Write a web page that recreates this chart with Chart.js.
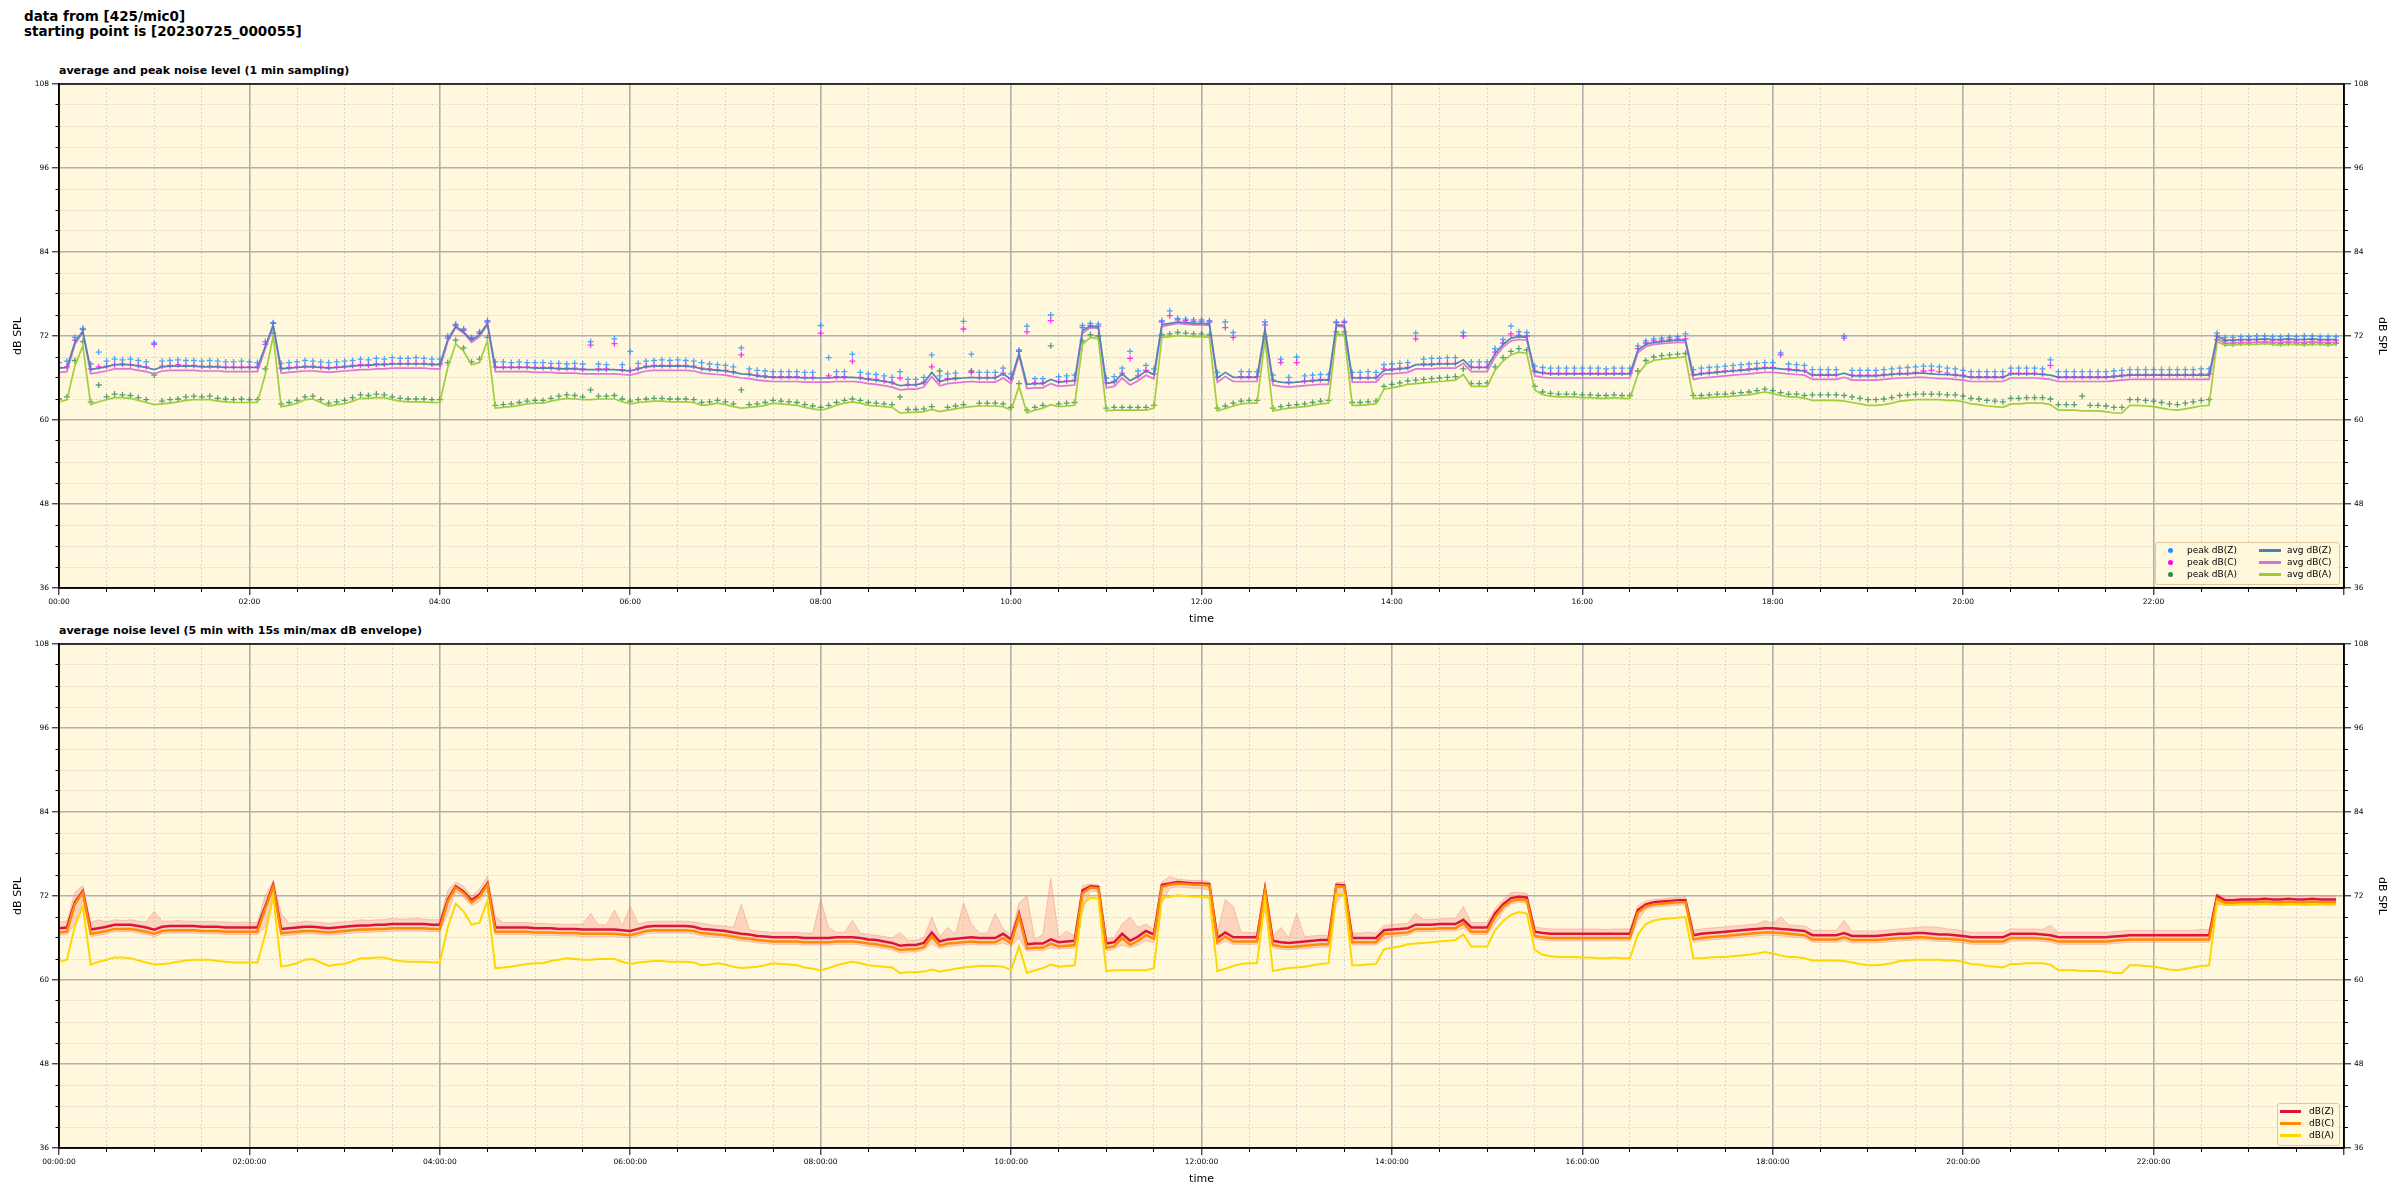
<!DOCTYPE html>
<html>
<head>
<meta charset="utf-8">
<script src="https://cdn.jsdelivr.net/npm/chart.js@4.4.0/dist/chart.umd.min.js"></script>
<style>
  html, body { margin: 0; padding: 0; background: #fff; }
  body { width: 2400px; height: 1200px; position: relative; overflow: hidden; font-family: 'DejaVu Sans', sans-serif; color: #000; }
  .head { position: absolute; left: 24px; top: 9px; font-size: 13.5px; font-weight: bold; line-height: 15px; }
  .sub { position: absolute; left: 59px; font-size: 11px; font-weight: bold; }
  canvas { position: absolute; left: 0; }
  .legend { position: absolute; background: rgba(255, 248, 220, 0.85); border: 1px solid #dcc9a0; border-radius: 3px; font-size: 9px; }
  .legend span { position: absolute; line-height: 12px; white-space: nowrap; }
  .legend i { position: absolute; display: block; }
</style>
</head>
<body>
<div class="head">data from [425/mic0]<br>starting point is [20230725_000055]</div>
<div class="sub" style="top:64px">average and peak noise level (1 min sampling)</div>
<div class="sub" style="top:624px">average noise level (5 min with 15s min/max dB envelope)</div>
<canvas id="top" width="2400" height="580" style="top:60px"></canvas>
<canvas id="bottom" width="2400" height="580" style="top:620px"></canvas>

<div class="legend" style="left:2155px;top:542px;width:183px;height:41px">
  <i style="left:12px;top:5px;width:5px;height:5px;border-radius:50%;background:#1e90ff"></i><span style="left:31px;top:1px">peak dB(Z)</span>
  <i style="left:12px;top:17px;width:5px;height:5px;border-radius:50%;background:#ff00ff"></i><span style="left:31px;top:13px">peak dB(C)</span>
  <i style="left:12px;top:29px;width:5px;height:5px;border-radius:50%;background:#2e8b57"></i><span style="left:31px;top:25px">peak dB(A)</span>
  <i style="left:103px;top:6px;width:22px;height:3px;background:#4682b4"></i><span style="left:131px;top:1px">avg dB(Z)</span>
  <i style="left:103px;top:18px;width:22px;height:3px;background:#da70d6"></i><span style="left:131px;top:13px">avg dB(C)</span>
  <i style="left:103px;top:30px;width:22px;height:3px;background:#9acd32"></i><span style="left:131px;top:25px">avg dB(A)</span>
</div>
<div class="legend" style="left:2277px;top:1103px;width:61px;height:41px">
  <i style="left:2px;top:6px;width:21px;height:3px;background:#dc143c"></i><span style="left:31px;top:1px">dB(Z)</span>
  <i style="left:2px;top:18px;width:21px;height:3px;background:#ff8c00"></i><span style="left:31px;top:13px">dB(C)</span>
  <i style="left:2px;top:30px;width:21px;height:3px;background:#ffd700"></i><span style="left:31px;top:25px">dB(A)</span>
</div>

<script>
// 5-minute samples, one row per hour (00h .. 23h), values in dB SPL
const avgZ = [
  67.4,67.5,71.1,72.7,67.2,67.4,67.6,67.9,67.9,67.9,67.7,67.5,
  67.2,67.6,67.7,67.7,67.7,67.7,67.6,67.6,67.6,67.5,67.5,67.5,
  67.5,67.5,70.5,73.6,67.3,67.4,67.5,67.6,67.6,67.5,67.4,67.5,
  67.6,67.7,67.8,67.8,67.9,67.9,68.0,68.0,68.0,68.0,68.0,67.9,
  67.9,71.5,73.4,72.6,71.4,72.2,73.8,67.5,67.5,67.5,67.5,67.5,
  67.4,67.4,67.4,67.3,67.3,67.3,67.2,67.2,67.2,67.2,67.2,67.1,
  67.0,67.3,67.6,67.7,67.7,67.7,67.7,67.7,67.6,67.3,67.2,67.1,
  67.0,66.8,66.6,66.5,66.3,66.2,66.1,66.1,66.1,66.1,66.0,66.0,
  66.0,66.0,66.1,66.1,66.1,66.0,65.8,65.7,65.5,65.3,64.9,65.0,
  65.0,65.3,66.8,65.5,65.8,65.9,66.0,66.1,66.0,66.0,66.0,66.6,
  65.8,69.5,65.1,65.2,65.2,65.8,65.4,65.5,65.6,72.8,73.4,73.3,
  65.2,65.4,66.6,65.6,66.2,67.0,66.5,73.6,73.8,74.0,73.9,73.8,
  73.8,73.7,66.0,66.8,66.1,66.1,66.1,66.1,73.0,65.6,65.4,65.3,
  65.4,65.5,65.6,65.7,65.7,73.6,73.5,66.0,66.0,66.0,66.0,67.1,
  67.2,67.3,67.4,67.9,67.9,67.9,68.0,68.0,68.0,68.6,67.5,67.5,
  67.5,69.5,70.8,71.7,71.9,71.8,66.9,66.7,66.6,66.6,66.6,66.6,
  66.6,66.6,66.6,66.6,66.6,66.6,66.6,70.0,70.8,71.1,71.2,71.3,
  71.4,71.4,66.4,66.6,66.7,66.8,66.9,67.0,67.1,67.2,67.3,67.4,
  67.4,67.3,67.2,67.1,67.0,66.4,66.4,66.4,66.4,66.7,66.3,66.3,
  66.3,66.3,66.4,66.5,66.6,66.6,66.7,66.7,66.6,66.5,66.5,66.4,
  66.3,66.1,66.1,66.1,66.1,66.1,66.6,66.6,66.6,66.6,66.5,66.4,
  66.1,66.1,66.1,66.1,66.1,66.1,66.1,66.2,66.3,66.4,66.4,66.4,
  66.4,66.4,66.4,66.4,66.4,66.4,66.4,66.4,72.0,71.4,71.4,71.5,
  71.5,71.5,71.6,71.5,71.5,71.6,71.5,71.5,71.6,71.5,71.5,71.5
];
const avgC = [
  66.8,66.9,70.8,72.5,66.6,66.8,67.0,67.3,67.3,67.3,67.1,66.9,
  66.6,67.0,67.1,67.1,67.1,67.1,67.0,67.0,67.0,66.9,66.9,66.9,
  66.9,66.9,70.2,73.3,66.7,66.8,66.9,67.0,67.0,66.9,66.8,66.9,
  67.0,67.1,67.2,67.2,67.3,67.3,67.4,67.4,67.4,67.4,67.4,67.3,
  67.3,71.2,73.2,72.4,71.1,71.9,73.6,66.9,66.9,66.9,66.9,66.9,
  66.8,66.8,66.8,66.7,66.7,66.7,66.6,66.6,66.6,66.6,66.6,66.5,
  66.4,66.7,67.0,67.1,67.1,67.1,67.1,67.1,67.0,66.7,66.6,66.5,
  66.4,66.2,66.0,65.9,65.7,65.6,65.5,65.5,65.5,65.5,65.4,65.4,
  65.4,65.4,65.5,65.5,65.5,65.4,65.2,65.1,64.9,64.7,64.3,64.4,
  64.4,64.7,66.2,64.9,65.2,65.3,65.4,65.5,65.4,65.4,65.4,66.0,
  65.2,69.2,64.5,64.6,64.6,65.2,64.8,64.9,65.0,72.4,73.2,73.1,
  64.6,64.8,66.0,65.0,65.6,66.4,65.9,73.3,73.6,73.8,73.7,73.6,
  73.6,73.5,65.4,66.2,65.5,65.5,65.5,65.5,72.7,65.0,64.8,64.7,
  64.8,64.9,65.0,65.1,65.1,73.4,73.3,65.4,65.4,65.4,65.4,66.6,
  66.6,66.7,66.8,67.3,67.3,67.3,67.4,67.4,67.4,68.1,66.9,66.9,
  66.9,69.0,70.4,71.3,71.5,71.4,66.3,66.1,66.0,66.0,66.0,66.0,
  66.0,66.0,66.0,66.0,66.0,66.0,66.0,69.6,70.5,70.8,70.9,71.0,
  71.1,71.1,65.8,66.0,66.1,66.2,66.3,66.4,66.5,66.6,66.7,66.8,
  66.8,66.7,66.6,66.5,66.4,65.8,65.8,65.8,65.8,66.1,65.7,65.7,
  65.7,65.7,65.8,65.9,66.0,66.0,66.1,66.1,66.0,65.9,65.9,65.8,
  65.7,65.5,65.5,65.5,65.5,65.5,66.0,66.0,66.0,66.0,65.9,65.8,
  65.5,65.5,65.5,65.5,65.5,65.5,65.5,65.6,65.7,65.8,65.8,65.8,
  65.8,65.8,65.8,65.8,65.8,65.8,65.8,65.8,71.6,71.0,71.0,71.1,
  71.1,71.1,71.2,71.1,71.1,71.2,71.1,71.1,71.2,71.1,71.1,71.1
];
const avgA = [
  62.6,62.9,67.7,70.6,62.2,62.6,62.9,63.2,63.2,63.1,62.8,62.5,
  62.2,62.3,62.4,62.6,62.8,62.9,62.9,62.9,62.7,62.6,62.5,62.5,
  62.5,62.5,66.5,72.0,61.9,62.1,62.4,62.9,63.0,62.5,62.0,62.2,
  62.3,62.7,63.1,63.1,63.2,63.2,62.9,62.7,62.6,62.6,62.6,62.5,
  62.5,67.5,70.9,69.8,67.9,68.2,71.3,61.7,61.8,61.9,62.1,62.3,
  62.4,62.4,62.7,62.9,63.1,63.0,62.9,62.9,63.0,63.0,63.0,62.6,
  62.3,62.5,62.6,62.7,62.7,62.6,62.6,62.6,62.5,62.1,62.2,62.4,
  62.2,61.9,61.7,61.8,61.9,62.1,62.4,62.3,62.2,62.1,61.8,61.6,
  61.4,61.7,62.1,62.4,62.6,62.4,62.1,62.0,61.9,61.8,61.0,61.1,
  61.1,61.2,61.5,61.2,61.4,61.6,61.8,61.9,62.0,62.0,62.0,61.9,
  61.4,64.8,61.0,61.4,61.7,62.2,61.9,62.0,62.1,70.8,71.8,71.6,
  61.3,61.4,61.4,61.4,61.4,61.4,61.7,71.8,71.9,72.1,72.0,71.9,
  71.9,71.8,61.3,61.6,62.0,62.3,62.4,62.4,71.5,61.3,61.5,61.7,
  61.8,61.9,62.1,62.3,62.4,72.3,72.2,62.1,62.1,62.2,62.3,64.4,
  64.6,64.8,65.1,65.2,65.3,65.4,65.5,65.6,65.7,66.5,64.8,64.8,
  64.8,67.1,68.4,69.3,69.7,69.5,64.3,63.6,63.4,63.3,63.3,63.3,
  63.2,63.2,63.1,63.1,63.2,63.1,63.1,66.5,68.0,68.5,68.7,68.8,
  68.9,69.0,63.1,63.1,63.2,63.3,63.3,63.4,63.5,63.6,63.8,64.0,
  63.8,63.5,63.3,63.3,63.1,62.8,62.8,62.8,62.8,62.7,62.5,62.3,
  62.1,62.1,62.2,62.4,62.7,62.8,62.9,62.9,62.9,62.9,62.8,62.8,
  62.6,62.3,62.2,62.0,61.9,61.8,62.3,62.3,62.4,62.4,62.4,62.2,
  61.4,61.4,61.4,61.3,61.3,61.3,61.2,61.0,61.0,62.1,62.1,62.0,
  61.9,61.7,61.5,61.4,61.6,61.8,62.0,62.1,71.2,70.7,70.7,70.8,
  70.8,70.8,70.9,70.8,70.7,70.8,70.8,70.7,70.8,70.8,70.7,70.8
];
const peakZ = [
  68.2,68.4,71.8,73.1,68.0,69.7,68.4,68.7,68.6,68.7,68.5,68.3,
  71.0,68.4,68.5,68.6,68.5,68.5,68.4,68.5,68.4,68.3,68.3,68.4,
  68.3,68.2,71.2,73.9,68.1,68.2,68.3,68.5,68.4,68.3,68.2,68.3,
  68.4,68.5,68.7,68.6,68.8,68.7,68.9,68.8,68.8,68.9,68.8,68.7,
  68.7,72.0,73.7,73.0,71.8,72.6,74.2,68.3,68.3,68.2,68.3,68.2,
  68.2,68.2,68.1,68.1,68.0,68.1,68.0,71.2,68.0,67.9,71.6,67.9,
  69.8,68.1,68.4,68.5,68.6,68.5,68.6,68.5,68.4,68.2,68.0,67.9,
  67.8,67.6,70.3,67.3,67.1,67.0,66.9,66.9,66.9,66.9,66.8,66.8,
  73.5,68.9,66.9,66.9,69.4,66.8,66.6,66.5,66.3,66.1,66.9,65.8,
  65.8,66.1,69.3,66.3,66.6,66.7,74.1,69.4,66.8,66.8,66.8,67.4,
  66.6,70.0,73.4,65.9,65.9,75.0,66.2,66.3,66.4,73.5,73.8,73.7,
  66.0,66.2,67.4,69.8,67.0,67.8,67.3,74.2,75.6,74.5,74.4,74.3,
  74.3,74.2,66.8,74.0,72.5,66.9,66.9,66.9,74.0,66.4,68.7,66.1,
  69.0,66.3,66.4,66.5,66.5,74.0,74.1,66.8,66.8,66.9,66.8,67.9,
  68.0,68.1,68.2,72.4,68.7,68.8,68.8,68.9,68.9,72.5,68.3,68.3,
  68.3,70.2,71.5,73.4,72.6,72.5,67.7,67.5,67.4,67.4,67.4,67.4,
  67.4,67.4,67.4,67.3,67.4,67.4,67.4,70.6,71.3,71.6,71.7,71.8,
  71.9,72.3,67.2,67.4,67.5,67.6,67.7,67.8,67.9,68.0,68.1,68.2,
  68.2,69.6,68.0,67.9,67.8,67.2,67.2,67.2,67.2,72.0,67.1,67.1,
  67.1,67.1,67.2,67.3,67.4,67.5,67.6,67.7,67.7,67.6,67.4,67.3,
  67.1,66.9,66.9,66.9,66.9,66.9,67.4,67.4,67.4,67.4,67.3,68.6,
  66.9,66.9,66.9,66.9,66.9,66.9,66.9,67.0,67.1,67.2,67.2,67.2,
  67.2,67.2,67.2,67.2,67.2,67.2,67.3,67.3,72.4,71.8,71.8,71.9,
  71.9,72.0,72.0,71.9,71.9,72.0,71.9,72.0,72.0,71.9,71.9,71.9
];
const peakC = [
  67.5,67.6,71.4,72.9,67.3,67.6,67.7,67.9,68.0,67.9,67.8,67.6,
  70.8,67.7,67.8,67.9,67.8,67.8,67.7,67.7,67.7,67.6,67.6,67.6,
  67.6,67.6,70.8,73.8,67.4,67.5,67.6,67.7,67.7,67.6,67.5,67.6,
  67.7,67.8,67.9,67.9,68.0,68.0,68.1,68.1,68.1,68.1,68.1,68.0,
  68.0,71.7,73.5,72.8,71.6,72.4,74.0,67.6,67.6,67.6,67.6,67.6,
  67.5,67.5,67.5,67.4,67.4,67.4,67.3,70.7,67.3,67.3,70.9,67.2,
  67.1,67.4,67.7,67.8,67.8,67.8,67.8,67.8,67.7,67.4,67.3,67.2,
  67.1,66.9,69.3,66.6,66.4,66.3,66.2,66.2,66.2,66.2,66.1,66.1,
  72.4,66.3,66.2,66.2,68.4,66.1,65.9,65.8,65.6,65.4,66.0,65.1,
  65.1,65.4,67.6,65.6,65.9,66.0,73.0,66.8,66.1,66.1,66.1,66.7,
  65.9,69.8,72.6,65.3,65.3,74.2,65.5,65.6,65.7,73.2,73.5,73.4,
  65.3,65.5,66.7,68.8,66.3,67.1,66.6,74.0,74.9,74.3,74.2,74.1,
  74.1,74.0,66.1,73.2,71.8,66.2,66.2,66.2,73.6,65.7,68.2,65.4,
  68.2,65.6,65.7,65.8,65.8,73.9,73.9,66.1,66.1,66.1,66.1,67.3,
  67.3,67.4,67.5,71.6,68.0,68.0,68.1,68.1,68.1,72.0,67.6,67.6,
  67.6,69.7,71.0,72.3,72.1,72.0,67.0,66.8,66.7,66.7,66.7,66.7,
  66.7,66.7,66.7,66.7,66.7,66.7,66.7,70.2,71.0,71.3,71.4,71.5,
  71.6,71.6,66.5,66.7,66.8,66.9,67.0,67.1,67.2,67.3,67.4,67.5,
  67.5,69.3,67.3,67.2,67.1,66.5,66.5,66.5,66.5,71.7,66.4,66.4,
  66.4,66.4,66.5,66.6,66.7,66.7,66.8,67.0,67.1,66.9,66.7,66.5,
  66.4,66.2,66.2,66.2,66.2,66.2,66.7,66.7,66.7,66.7,66.6,67.8,
  66.2,66.2,66.2,66.2,66.2,66.2,66.2,66.3,66.4,66.5,66.5,66.5,
  66.5,66.5,66.5,66.5,66.5,66.5,66.6,66.6,72.0,71.3,71.3,71.4,
  71.4,71.5,71.5,71.4,71.4,71.5,71.4,71.5,71.5,71.4,71.4,71.4
];
const peakA = [
  63.0,63.3,68.5,71.2,62.6,65.0,63.3,63.7,63.6,63.5,63.2,62.9,
  66.4,62.7,62.9,63.0,63.3,63.4,63.3,63.4,63.1,63.0,62.9,63.0,
  62.9,62.9,67.3,72.4,62.3,62.5,62.8,63.3,63.4,62.9,62.4,62.6,
  62.8,63.2,63.6,63.5,63.7,63.6,63.3,63.1,63.0,63.0,63.0,62.9,
  62.9,68.2,71.4,70.3,68.3,68.7,71.8,62.1,62.2,62.3,62.5,62.7,
  62.8,62.8,63.1,63.4,63.6,63.5,63.3,64.3,63.4,63.4,63.5,63.0,
  62.7,62.9,63.0,63.1,63.1,63.0,63.0,63.0,62.9,62.5,62.6,62.8,
  62.6,62.3,64.3,62.2,62.3,62.5,62.8,62.7,62.6,62.5,62.2,62.0,
  61.8,62.1,62.5,62.8,63.0,62.8,62.5,62.4,62.3,62.2,63.3,61.5,
  61.5,61.6,61.9,67.0,61.8,62.0,62.2,67.0,62.4,62.4,62.4,62.3,
  61.8,65.2,61.4,61.8,62.1,70.6,62.3,62.4,62.5,71.3,72.2,72.0,
  61.7,61.8,61.8,61.8,61.8,61.8,62.1,72.2,72.3,72.5,72.4,72.3,
  72.3,72.2,61.7,62.0,62.4,62.7,62.8,62.8,71.9,61.7,61.9,62.1,
  62.2,62.3,62.5,62.7,62.8,72.6,72.6,62.5,62.5,62.6,62.7,64.8,
  65.1,65.3,65.6,65.7,65.8,65.9,66.0,66.1,66.2,67.3,65.2,65.2,
  65.3,67.6,68.9,69.8,70.2,70.0,64.8,64.0,63.8,63.7,63.7,63.7,
  63.6,63.6,63.5,63.5,63.6,63.5,63.5,67.0,68.5,69.0,69.2,69.3,
  69.4,69.5,63.5,63.5,63.6,63.7,63.7,63.8,63.9,64.0,64.2,64.4,
  64.2,63.9,63.7,63.7,63.5,63.6,63.6,63.6,63.6,63.5,63.3,63.1,
  62.9,62.9,63.0,63.2,63.5,63.6,63.7,63.7,63.7,63.7,63.6,63.6,
  63.4,63.1,63.0,62.8,62.7,62.6,63.1,63.1,63.2,63.2,63.2,63.0,
  62.2,62.2,62.2,63.4,62.1,62.1,62.0,61.8,61.8,62.9,62.9,62.8,
  62.7,62.5,62.3,62.2,62.4,62.6,62.8,62.9,71.5,70.9,70.9,71.0,
  71.0,71.1,71.1,71.0,70.9,71.0,71.0,70.9,71.0,71.0,70.9,71.0
];
// lower panel: 15 s min/max envelope around the 5-min averages
const envMax = [
  68.3,68.4,72.5,73.5,68.2,68.6,68.3,68.6,68.5,68.6,68.4,68.3,
  69.8,68.4,68.4,68.5,68.4,68.4,68.3,68.4,68.3,68.3,68.2,68.3,
  68.2,68.2,72.0,74.2,69.5,68.1,68.2,68.4,68.3,68.2,68.1,68.2,
  68.3,68.4,68.6,68.5,68.6,68.6,68.8,68.7,68.7,68.8,68.7,68.6,
  68.6,72.8,74.0,73.4,72.0,73.0,74.8,69.0,68.2,68.2,68.2,68.2,
  68.1,68.1,68.0,68.0,67.9,68.0,68.0,69.5,67.9,67.9,70.0,67.8,
  70.5,68.0,68.3,68.4,68.4,68.4,68.4,68.4,68.3,68.1,67.9,67.8,
  67.7,67.5,70.8,67.2,67.0,66.9,66.8,66.8,66.8,66.8,66.7,66.7,
  71.5,67.5,66.8,66.8,68.5,66.7,66.5,66.4,66.2,66.0,66.8,65.7,
  65.7,66.0,69.0,66.2,67.5,66.6,71.0,68.0,66.7,66.7,69.5,67.3,
  66.5,71.0,72.0,65.8,66.5,74.5,66.1,67.0,66.3,73.5,73.7,73.6,
  65.9,66.1,68.0,69.0,67.5,68.0,67.2,74.0,74.8,74.4,74.3,74.2,
  74.2,74.1,66.7,71.5,70.5,66.8,66.8,66.8,73.8,66.3,67.5,66.0,
  69.5,66.2,66.3,66.4,66.4,73.9,74.0,66.7,66.7,66.8,66.7,67.8,
  67.9,68.0,68.1,69.5,68.6,68.7,68.7,68.8,68.8,70.5,68.2,68.2,
  68.2,70.2,71.4,72.5,72.5,72.4,67.6,67.4,67.3,67.3,67.3,67.3,
  67.3,67.3,67.3,67.2,67.3,67.3,67.3,70.6,71.3,71.5,71.6,71.7,
  71.8,71.9,67.1,67.3,67.4,67.5,67.6,67.7,67.8,67.9,68.0,68.5,
  68.1,69.0,67.9,67.8,67.7,67.1,67.1,67.1,67.1,68.5,67.0,67.0,
  67.0,67.0,67.1,67.2,67.3,67.4,67.5,67.6,67.6,67.5,67.3,67.2,
  67.0,66.8,66.8,66.8,66.8,66.8,67.3,67.3,67.3,67.3,67.2,67.8,
  66.8,66.8,66.8,66.8,66.8,66.8,66.8,66.9,67.0,67.1,67.1,67.1,
  67.1,67.1,67.1,67.1,67.1,67.1,67.2,67.2,72.3,71.9,71.9,72.0,
  72.0,72.0,72.1,72.0,72.0,72.1,72.0,72.0,72.1,72.0,72.0,72.0
];
const envMin = [
  66.4,66.5,68.0,71.5,66.2,66.4,66.6,66.9,66.9,66.9,66.7,66.5,
  66.2,66.6,66.7,66.7,66.7,66.7,66.6,66.6,66.6,66.5,66.5,66.5,
  66.5,66.5,67.5,72.5,66.3,66.4,66.5,66.6,66.6,66.5,66.4,66.5,
  66.6,66.7,66.8,66.8,66.9,66.9,67.0,67.0,67.0,67.0,67.0,66.9,
  66.9,69.5,72.6,71.8,70.6,71.2,72.8,66.5,66.5,66.5,66.5,66.5,
  66.4,66.4,66.4,66.3,66.3,66.3,66.2,66.2,66.2,66.2,66.2,66.1,
  66.0,66.3,66.6,66.7,66.7,66.7,66.7,66.7,66.6,66.3,66.2,66.1,
  66.0,65.8,65.6,65.5,65.3,65.2,65.1,65.1,65.1,65.1,65.0,65.0,
  65.0,65.0,65.1,65.1,65.1,65.0,64.8,64.7,64.5,64.3,63.9,64.0,
  64.0,64.3,65.2,64.5,64.8,64.9,65.0,65.1,65.0,65.0,65.0,65.3,
  64.8,66.0,64.1,64.2,64.2,64.6,64.4,64.5,64.6,70.0,72.7,72.6,
  64.2,64.4,65.0,64.6,65.0,65.6,65.3,71.0,73.1,73.3,73.2,73.1,
  73.1,72.8,65.0,65.5,65.1,65.1,65.1,65.1,70.0,64.6,64.4,64.3,
  64.4,64.5,64.6,64.7,64.7,71.0,72.7,65.0,65.0,65.0,65.0,65.8,
  66.2,66.3,66.4,66.9,66.9,66.9,67.0,67.0,67.0,67.4,66.5,66.5,
  66.5,68.0,69.8,70.9,71.1,71.0,65.9,65.7,65.6,65.6,65.6,65.6,
  65.6,65.6,65.6,65.6,65.6,65.6,65.6,68.5,70.1,70.4,70.5,70.6,
  70.7,70.7,65.4,65.6,65.7,65.8,65.9,66.0,66.1,66.2,66.3,66.4,
  66.4,66.3,66.2,66.1,66.0,65.4,65.4,65.4,65.4,65.6,65.3,65.3,
  65.3,65.3,65.4,65.5,65.6,65.6,65.7,65.7,65.6,65.5,65.5,65.4,
  65.3,65.1,65.1,65.1,65.1,65.1,65.5,65.6,65.6,65.6,65.5,65.4,
  65.1,65.1,65.1,65.1,65.1,65.1,65.1,65.2,65.3,65.4,65.4,65.4,
  65.4,65.4,65.4,65.4,65.4,65.4,65.4,65.4,70.8,70.7,70.7,70.8,
  70.8,70.8,70.9,70.8,70.8,70.9,70.8,70.8,70.9,70.8,70.8,70.8
];

// sample times in minutes after 00:00
const minutes = avgZ.map((_, i) => i * 5);
const pts = arr => arr.map((v, i) => ({ x: minutes[i], y: v }));

const FONT = "'DejaVu Sans', sans-serif";
const clock = (m, withSecs) => {
  const h = String(Math.floor(m / 60)).padStart(2, '0');
  const mm = String(m % 60).padStart(2, '0');
  return withSecs ? h + ':' + mm + ':00' : h + ':' + mm;
};

const panelFrame = {
  id: 'panelFrame',
  beforeDraw(chart) {
    const { ctx, chartArea: a } = chart;
    ctx.save();
    ctx.fillStyle = '#fff8dc';
    ctx.fillRect(a.left, a.top, a.right - a.left, a.bottom - a.top);
    ctx.restore();
  },
  afterDraw(chart) {
    const { ctx, chartArea: a } = chart;
    ctx.save();
    ctx.strokeStyle = '#000';
    ctx.lineWidth = 1.5;
    ctx.strokeRect(a.left, a.top, a.right - a.left, a.bottom - a.top);
    ctx.restore();
  }
};

function yAxis(pos) {
  return {
    type: 'linear', position: pos, min: 36, max: 108,
    afterFit: s => { s.width = pos === 'left' ? 59 : 56; },
    ticks: {
      stepSize: 3, autoSkip: false, padding: 3, color: '#000',
      font: { family: FONT, size: 7.5 },
      callback: v => (v % 12 === 0 ? v : '')
    },
    grid: {
      drawOnChartArea: pos === 'left',
      color: c => (c.tick && c.tick.value % 12 === 0 ? '#b0b0b0' : '#cdcdcd'),
      lineWidth: c => (c.tick && c.tick.value % 12 === 0 ? 1.6 : 0.8),
      tickColor: '#000', tickWidth: 1, tickLength: 7,
      tickBorderDash: c => (c.tick && c.tick.value % 12 === 0 ? [] : (pos === 'left' ? [0, 3.5, 3.5, 100] : [3.5, 100]))
    },
    border: { color: '#000', width: 1.5, dash: c => (c.tick && c.tick.value % 12 !== 0 ? [2, 2] : []) },
    title: { display: true, text: 'dB SPL', color: '#000', font: { family: FONT, size: 11 }, padding: { top: 12, bottom: 0 } }
  };
}

function xAxis(withSecs) {
  return {
    type: 'linear', min: 0, max: 1440,
    afterFit: s => { s.height = 52; },
    ticks: {
      stepSize: 30, autoSkip: false, maxRotation: 0, padding: 3, color: '#000',
      font: { family: FONT, size: 7.5 },
      callback: v => (v % 120 === 0 && v < 1440 ? clock(v, withSecs) : '')
    },
    grid: {
      color: c => (c.tick && c.tick.value % 120 === 0 ? '#b0b0b0' : '#cdcdcd'),
      lineWidth: c => (c.tick && c.tick.value % 120 === 0 ? 1.6 : 0.8),
      tickColor: '#000', tickWidth: 1, tickLength: 7,
      tickBorderDash: c => (c.tick && c.tick.value % 120 === 0 ? [] : [3.5, 100])
    },
    border: { color: '#000', width: 1.5, dash: c => (c.tick && c.tick.value % 120 !== 0 ? [2, 2] : []) },
    title: { display: true, text: 'time', color: '#000', font: { family: FONT, size: 11 }, padding: { top: 0, bottom: 14 } }
  };
}

function baseOptions(withSecs) {
  return {
    responsive: false, animation: false, devicePixelRatio: 1,
    layout: { padding: { top: 24, left: 0, right: 0, bottom: 0 } },
    plugins: { legend: { display: false }, tooltip: { enabled: false }, filler: { propagate: false } },
    scales: { x: xAxis(withSecs), y: yAxis('left'), y2: yAxis('right') }
  };
}

const peakSet = (arr, color) => ({
  data: pts(arr), showLine: false, pointStyle: 'cross', pointRadius: 3,
  pointBorderWidth: 1.3, pointBorderColor: color, pointBackgroundColor: color, order: 2
});
const lineSet = (arr, color, width) => ({
  data: pts(arr), borderColor: color, borderWidth: width, pointRadius: 0,
  tension: 0, fill: false, order: 1
});

new Chart(document.getElementById('top'), {
  type: 'line',
  data: {
    datasets: [
      peakSet(peakZ, 'rgba(30,144,255,0.8)'),
      peakSet(peakC, 'rgba(255,0,255,0.8)'),
      peakSet(peakA, 'rgba(46,139,87,0.8)'),
      lineSet(avgZ, 'rgba(70,130,180,0.95)', 1.7),
      lineSet(avgC, 'rgba(218,112,214,0.95)', 1.7),
      lineSet(avgA, 'rgba(154,205,50,0.95)', 1.7)
    ]
  },
  options: baseOptions(false),
  plugins: [panelFrame]
});

// lower panel: 5-min averages of the same three weightings
new Chart(document.getElementById('bottom'), {
  type: 'line',
  data: {
    datasets: [
      { data: pts(envMax), borderColor: 'rgba(240,128,128,0.5)', borderWidth: 0.8, pointRadius: 0,
        tension: 0, fill: '+1', backgroundColor: 'rgba(245,150,130,0.35)', order: 5 },
      { data: pts(envMin), borderColor: 'rgba(240,128,128,0.5)', borderWidth: 0.8, pointRadius: 0,
        tension: 0, fill: false, order: 5 },
      lineSet(avgA, '#ffd700', 2),
      lineSet(avgC, '#ff8c00', 2.5),
      lineSet(avgZ, '#dc143c', 2.5)
    ]
  },
  options: baseOptions(true),
  plugins: [panelFrame]
});
</script>
</body>
</html>
